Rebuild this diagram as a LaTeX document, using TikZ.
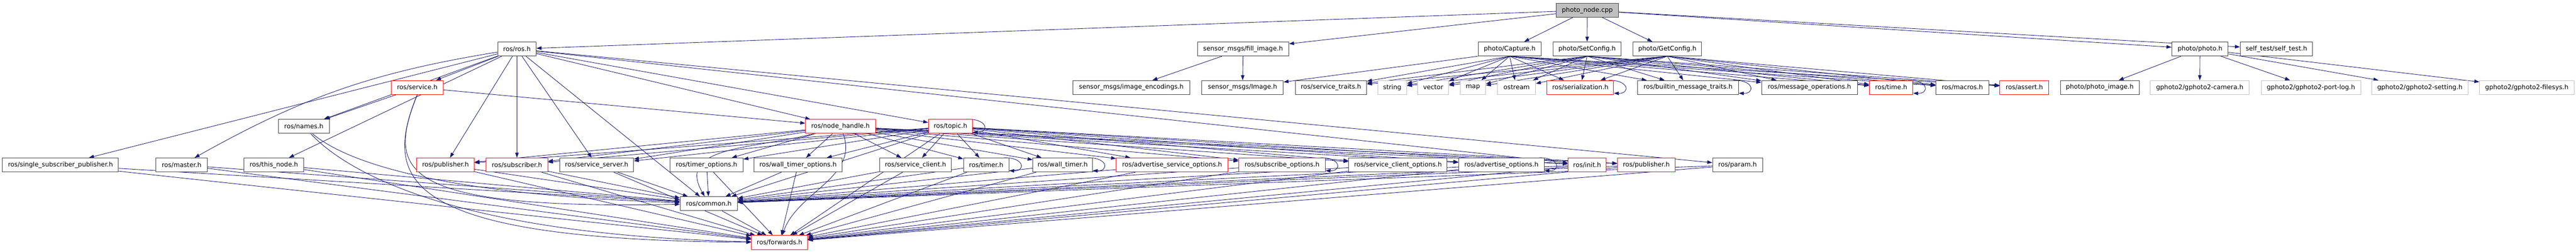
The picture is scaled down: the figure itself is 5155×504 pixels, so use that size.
\documentclass[tikz,border=0pt]{standalone}
\usepackage{fontspec}
\setmainfont{DejaVu Sans}
\usetikzlibrary{arrows.meta}
\definecolor{mblue}{HTML}{191970}
\definecolor{boxgray}{HTML}{404040}
\definecolor{extgray}{HTML}{BFBFBF}
\pgfdeclarelayer{bg}
\pgfsetlayers{bg,main}
\tikzset{
  hbox/.style={draw=boxgray, line width=1pt, fill=white, minimum height=28pt, inner sep=0pt,
    font=\fontsize{12.7pt}{15pt}\selectfont, text=black, anchor=center},
  redbox/.style={hbox, draw=red},
  extbox/.style={hbox, draw=extgray},
  rootbox/.style={hbox, fill=extgray, draw=boxgray},
  edge/.style={draw=mblue, line width=0.9pt, -{Triangle[length=10pt,width=7pt]}},
}
\newcommand{\selfloop}[1]{\draw[edge] ([xshift=-10pt]#1.north east) .. controls ([xshift=32pt]#1.north east) and ([xshift=32pt,yshift=2pt]#1.south east) .. ([yshift=3pt]#1.south east);}
\begin{document}
\begin{tikzpicture}[x=1pt,y=-1pt]
\useasboundingbox (0,0) rectangle (5155,504);
% row 0
\node[rootbox, minimum width=125pt] (root) at (3176.5,20.5) {photo\_node.cpp};
% row 1
\node[hbox, minimum width=77pt] (rosh) at (1034.5,98) {ros/ros.h};
\node[hbox, minimum width=183pt] (fillimg) at (2487.5,98) {sensor\_msgs/fill\_image.h};
\node[hbox, minimum width=126pt] (capture) at (3021,98) {photo/Capture.h};
\node[hbox, minimum width=136pt] (setcfg) at (3176,98) {photo/SetConfig.h};
\node[hbox, minimum width=137pt] (getcfg) at (3336.5,98) {photo/GetConfig.h};
\node[hbox, minimum width=113pt] (photoh) at (4402.5,98) {photo/photo.h};
\node[hbox, minimum width=145pt] (selftest) at (4555.5,98) {self\_test/self\_test.h};
% row 2
\node[redbox, minimum width=104pt] (service) at (835,175) {ros/service.h};
\node[hbox, minimum width=234pt] (imgenc) at (2264,175) {sensor\_msgs/image\_encodings.h};
\node[hbox, minimum width=163pt] (image) at (2486.5,175) {sensor\_msgs/Image.h};
\node[hbox, minimum width=143pt] (srvtraits) at (2663.5,175) {ros/service\_traits.h};
\node[extbox, minimum width=58pt] (string) at (2786,175) {string};
\node[extbox, minimum width=62pt] (vector) at (2868,175) {vector};
\node[extbox, minimum width=51pt] (map) at (2947.5,175) {map};
\node[extbox, minimum width=76pt] (ostream) at (3035,175) {ostream};
\node[redbox, minimum width=133pt] (serial) at (3162.5,175) {ros/serialization.h};
\node[hbox, minimum width=202pt] (builtin) at (3378,175) {ros/builtin\_message\_traits.h};
\node[hbox, minimum width=192pt] (msgops) at (3621,175) {ros/message\_operations.h};
\node[redbox, minimum width=87pt] (time) at (3784.5,175) {ros/time.h};
\node[hbox, minimum width=106pt] (macros) at (3927,175) {ros/macros.h};
\node[redbox, minimum width=98pt] (assert) at (4051,175) {ros/assert.h};
\node[hbox, minimum width=158pt] (photoimg) at (4202,175) {photo/photo\_image.h};
\node[extbox, minimum width=198pt] (gpcam) at (4402,175) {gphoto2/gphoto2-camera.h};
\node[extbox, minimum width=199pt] (gplog) at (4624.5,175) {gphoto2/gphoto2-port-log.h};
\node[extbox, minimum width=193pt] (gpset) at (4842.5,175) {gphoto2/gphoto2-setting.h};
\node[extbox, minimum width=189pt] (gpfs) at (5056.5,175) {gphoto2/gphoto2-filesys.h};
% row 3
\node[hbox, minimum width=102pt] (names) at (608,253) {ros/names.h};
\node[redbox, minimum width=140pt] (nodehandle) at (1682,253) {ros/node\_handle.h};
\node[redbox, minimum width=88pt] (topic) at (1902,253) {ros/topic.h};
% row 4
\node[hbox, minimum width=232pt] (ssp) at (121,330) {ros/single\_subscriber\_publisher.h};
\node[hbox, minimum width=103pt] (master) at (363.5,330) {ros/master.h};
\node[hbox, minimum width=120pt] (thisnode) at (548,330) {ros/this\_node.h};
\node[redbox, minimum width=115pt] (pubA) at (891.5,330) {ros/publisher.h};
\node[redbox, minimum width=123pt] (sub) at (1034.5,330) {ros/subscriber.h};
\node[hbox, minimum width=148pt] (srvserver) at (1194,330) {ros/service\_server.h};
\node[hbox, minimum width=146pt] (timeropt) at (1414,330) {ros/timer\_options.h};
\node[hbox, minimum width=176pt] (wtimeropt) at (1597,330) {ros/wall\_timer\_options.h};
\node[hbox, minimum width=144pt] (srvclient) at (1832,330) {ros/service\_client.h};
\node[hbox, minimum width=91pt] (timer) at (1973.5,330) {ros/timer.h};
\node[hbox, minimum width=119pt] (wtimer) at (2126.5,330) {ros/wall\_timer.h};
\node[redbox, minimum width=223pt] (advsrvopt) at (2345.5,330) {ros/advertise\_service\_options.h};
\node[redbox, minimum width=173pt] (subopt) at (2565.5,330) {ros/subscribe\_options.h};
\node[hbox, minimum width=197pt] (srvclientopt) at (2797.5,330) {ros/service\_client\_options.h};
\node[hbox, minimum width=171pt] (advopt) at (3004.5,330) {ros/advertise\_options.h};
\node[redbox, minimum width=76pt] (init) at (3176,330) {ros/init.h};
\node[redbox, minimum width=115pt] (pubB) at (3294.5,330) {ros/publisher.h};
\node[hbox, minimum width=100pt] (param) at (3477,330) {ros/param.h};
% row 5, 6
\node[hbox, minimum width=115pt] (common) at (1418.5,407.5) {ros/common.h};
\node[redbox, minimum width=112pt] (forwards) at (1560,485) {ros/forwards.h};

\begin{pgfonlayer}{bg}
\fill[white] (0,0) rectangle (5155,504);
% root
\foreach \t in {rosh,fillimg,capture,setcfg,getcfg,photoh,selftest} {\draw[edge] (root) -- (\t);}
% sensor msgs
\draw[edge] (fillimg) -- (imgenc);
\draw[edge] (fillimg) -- (image);
\draw[edge] (capture.south west) -- (image);
% service headers
\foreach \s in {capture,setcfg,getcfg} {
  \foreach \t in {srvtraits,string,vector,map,ostream,serial,builtin,msgops,time,macros,assert} {
    \draw[edge] (\s.south) -- (\t);
  }
}
% photo.h
\foreach \t in {photoimg,gpcam,gplog,gpset,gpfs} {\draw[edge] (photoh) -- (\t);}
% ros.h
\foreach \t in {ssp,thisnode,names,service,pubA,sub,srvserver,nodehandle,topic,init,param,common} {\draw[edge] (rosh) -- (\t);}
\draw[edge] (rosh) to[bend right=10] (master);
% service.h
\draw[edge] (service) -- (names);
\draw[edge] (service) -- (nodehandle);
\draw[edge] (service.south) .. controls (775,340) and (790,420) .. (common);
\draw[edge] (service.south) .. controls (765,360) and (800,480) .. (forwards);
% names.h
\draw[edge] (names) .. controls (700,330) and (900,390) .. (common);
\draw[edge] (names) .. controls (690,340) and (900,470) .. (forwards);
% node_handle and topic
\foreach \s in {nodehandle,topic} {
  \foreach \t in {pubA,sub,srvserver,timeropt,wtimeropt,srvclient,timer,wtimer,advsrvopt,subopt,srvclientopt,advopt,init,pubB} {
    \draw[edge] (\s) -- (\t);
  }
}
\draw[edge] (nodehandle) to[out=195,in=120,looseness=1.2] (common);
\draw[edge] (nodehandle) to[out=-70,in=70] (forwards);
\draw[edge] (topic) -- (common);
\draw[edge] (topic) -- (forwards);
% row 4 to common / forwards
\foreach \s in {ssp,master,thisnode,pubA,sub,srvserver,timeropt,wtimeropt,srvclient,timer,wtimer,advsrvopt,subopt,srvclientopt,advopt,init,pubB,param} {
  \draw[edge] (\s) -- (common);
  \draw[edge] (\s) -- (forwards);
}
\draw[edge] (common) -- (forwards);
% self loops
\selfloop{topic}
\selfloop{timer}
\selfloop{wtimer}
\selfloop{subopt}
\selfloop{advopt}
\selfloop{serial}
\selfloop{builtin}
\selfloop{time}
\end{pgfonlayer}
\end{tikzpicture}
\end{document}
